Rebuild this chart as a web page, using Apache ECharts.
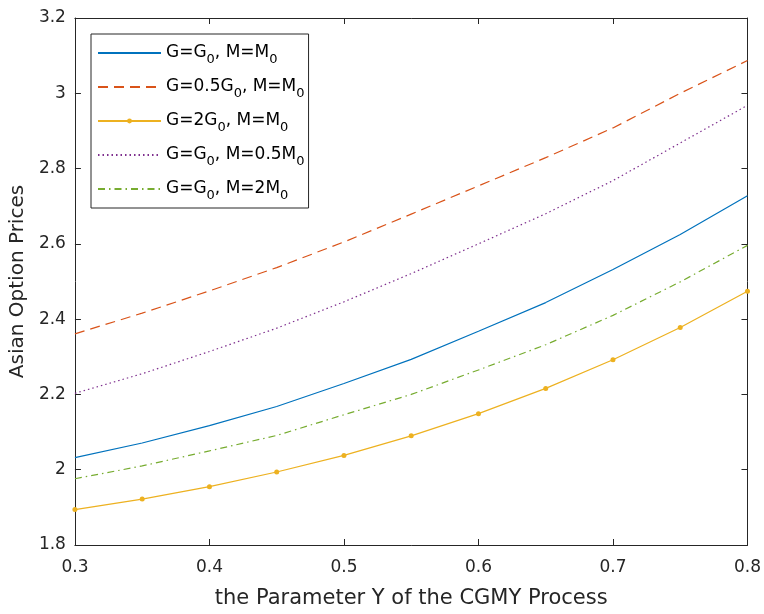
<!DOCTYPE html>
<html>
<head>
<meta charset="utf-8">
<script src="https://cdn.jsdelivr.net/npm/echarts@6/dist/echarts.min.js"></script>
<style>
html,body{margin:0;padding:0;background:#fff;}
#chart{width:764px;height:614px;}
</style>
</head>
<body>
<div id="chart"></div>
<script>
// Parameter Y values (x axis)
const xs = [0.30, 0.35, 0.40, 0.45, 0.50, 0.55, 0.60, 0.65, 0.70, 0.75, 0.80];
// Series names
const names = ['G=G0, M=M0', 'G=0.5G0, M=M0', 'G=2G0, M=M0', 'G=G0, M=0.5M0', 'G=G0, M=2M0'];
// Series values
const base     = [2.032, 2.071, 2.117, 2.168, 2.229, 2.293, 2.368, 2.444, 2.532, 2.625, 2.728];
const halfG    = [2.361, 2.416, 2.475, 2.537, 2.605, 2.679, 2.754, 2.829, 2.908, 3.000, 3.087];
const doubleG  = [1.894, 1.922, 1.955, 1.994, 2.038, 2.090, 2.149, 2.216, 2.292, 2.378, 2.474];
const halfM    = [2.203, 2.255, 2.314, 2.376, 2.446, 2.521, 2.600, 2.680, 2.768, 2.868, 2.968];
const doubleM  = [1.976, 2.010, 2.050, 2.091, 2.146, 2.200, 2.265, 2.332, 2.410, 2.499, 2.596];
// Axis labels
const xTitle = 'the Parameter Y of the CGMY Process';
const yTitle = 'Asian Option Prices';

const FONT = 'DejaVu Sans, sans-serif';
const AX = '#262626';
const zip = arr => xs.map((x, i) => [x, arr[i]]);

const chart = echarts.init(document.getElementById('chart'), null, {renderer: 'canvas'});

const fmt1 = v => String(+(+v).toFixed(1));

const baseX = {
  type: 'value', min: 0.3, max: 0.8, interval: 0.1,
  axisLine: {show: true, onZero: false, lineStyle: {color: AX, width: 1}},
  axisTick: {show: true, inside: true, length: 6, lineStyle: {color: AX}},
  splitLine: {show: false}
};
const baseY = {
  type: 'value', min: 1.8, max: 3.2, interval: 0.2,
  axisLine: {show: true, onZero: false, lineStyle: {color: AX, width: 1}},
  axisTick: {show: true, inside: true, length: 6, lineStyle: {color: AX}},
  splitLine: {show: false}
};

function mkSeries(name, data, color, type, extra) {
  return Object.assign({
    name: name,
    type: 'line',
    data: zip(data),
    xAxisIndex: 0, yAxisIndex: 0,
    symbol: 'none',
    showSymbol: false,
    smooth: false,
    animation: false,
    lineStyle: {color: color, width: 1.2, type: type},
    itemStyle: {color: color}
  }, extra || {});
}

const legendData = names.map((n, i) => i === 2
  ? {name: n, itemStyle: {color: '#EDB120'}}
  : {name: n});

const option = {
  animation: false,
  backgroundColor: '#fff',
  textStyle: {fontFamily: FONT},
  grid: {left: 74, right: 14, top: 18, bottom: 65, containLabel: false},
  xAxis: [
    Object.assign({}, baseX, {
      position: 'bottom',
      name: xTitle, nameLocation: 'middle', nameGap: 43,
      nameTextStyle: {fontSize: 21, color: AX, fontFamily: FONT},
      axisLabel: {show: true, margin: 14, fontSize: 17, color: AX, fontFamily: FONT, formatter: fmt1}
    }),
    Object.assign({}, baseX, {position: 'top', axisLabel: {show: false}})
  ],
  yAxis: [
    Object.assign({}, baseY, {
      position: 'left',
      name: yTitle, nameLocation: 'middle', nameGap: 44, nameRotate: 90,
      nameTextStyle: {fontSize: 20, color: AX, fontFamily: FONT},
      axisLabel: {show: true, margin: 9, fontSize: 17, color: AX, fontFamily: FONT, formatter: fmt1}
    }),
    Object.assign({}, baseY, {position: 'right', axisLabel: {show: false}})
  ],
  legend: {
    show: true,
    orient: 'vertical',
    left: 91, top: 34,
    padding: [6, 4, 6, 6],
    itemGap: 8,
    itemWidth: 63, itemHeight: 6,
    backgroundColor: '#fff',
    borderColor: AX, borderWidth: 1,
    selectedMode: false,
    data: legendData,
    itemStyle: {color: 'rgba(0,0,0,0)', borderWidth: 0},
    formatter: n => n.replace(/G0/g, 'G{s|0}').replace(/M0/g, 'M{s|0}'),
    textStyle: {
      fontSize: 17, color: '#000', fontFamily: FONT, lineHeight: 26,
      rich: {s: {fontSize: 13, color: '#000', fontFamily: FONT, lineHeight: 13, verticalAlign: 'bottom'}}
    }
  },
  series: [
    mkSeries(names[0], base, '#0072BD', 'solid'),
    mkSeries(names[1], halfG, '#D95319', [10, 6]),
    mkSeries(names[2], doubleG, '#EDB120', 'solid', {symbol: 'circle', showSymbol: true, symbolSize: 5}),
    mkSeries(names[3], halfM, '#7E2F8E', [1.5, 3]),
    mkSeries(names[4], doubleM, '#77AC30', [7, 4, 1.5, 4])
  ]
};
chart.setOption(option);
</script>
</body>
</html>
